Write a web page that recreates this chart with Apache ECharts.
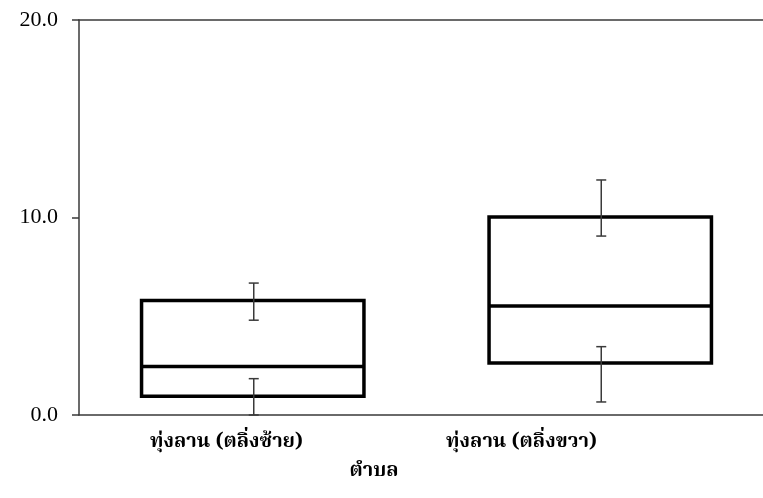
<!DOCTYPE html>
<html>
<head>
<meta charset="utf-8">
<script src="https://cdn.jsdelivr.net/npm/echarts@6/dist/echarts.min.js"></script>
<style>
  html, body { margin: 0; padding: 0; background: #fff; }
  #main { width: 763px; height: 498px; }
</style>
</head>
<body>
<div id="main"></div>
<script>
  var categories = ['ทุ่งลาน (ตลิ่งซ้าย)', 'ทุ่งลาน (ตลิ่งขวา)'];
  var axisName = 'ตำบล';
  var yTicks = [0, 10, 20];

  // box: bottom, middle line, top
  var boxLow = [0.95, 2.63];
  var boxMid = [2.45, 5.52];
  var boxHigh = [5.8, 10.03];

  // error bars around box top and box bottom
  var errTopLow = [4.8, 9.06];
  var errTopHigh = [6.68, 11.9];
  var errBotLow = [0, 0.66];
  var errBotHigh = [1.84, 3.46];

  var thaiFont = '"Noto Serif Thai", "Noto Sans Thai", serif';

  var boxData = categories.map(function (c, i) {
    return [i, boxLow[i], boxMid[i], boxHigh[i]];
  });
  var errData = [];
  categories.forEach(function (c, i) {
    errData.push([i, errTopLow[i], errTopHigh[i]]);
    errData.push([i, errBotLow[i], errBotHigh[i]]);
  });

  var myChart = echarts.init(document.getElementById('main'));
  var option = {
    animation: false,
    backgroundColor: '#fff',
    grid: [
      { left: 79, top: 20, width: 695, height: 395, outerBoundsMode: 'none', containLabel: false },
      { left: 79, top: 20, width: 590, height: 395, outerBoundsMode: 'none', containLabel: false }
    ],
    xAxis: [
      {
        type: 'category', gridIndex: 0, data: categories,
        axisLine: { lineStyle: { color: '#3a3a3a', width: 1.5 } },
        axisTick: { show: false },
        axisLabel: { show: false }
      },
      {
        type: 'category', gridIndex: 0, position: 'top', data: categories,
        axisLine: { lineStyle: { color: '#3a3a3a', width: 1.5 } },
        axisTick: { show: false },
        axisLabel: { show: false }
      },
      {
        type: 'category', gridIndex: 1, data: categories,
        axisLine: { show: false },
        axisTick: { show: false },
        axisLabel: {
          margin: 19, color: '#000', fontSize: 20, fontWeight: 'bold',
          fontFamily: thaiFont
        },
        name: axisName,
        nameLocation: 'middle',
        nameGap: 48,
        nameTextStyle: { color: '#000', fontSize: 20, fontWeight: 'bold', fontFamily: thaiFont }
      }
    ],
    yAxis: [
      {
        type: 'value', gridIndex: 0, min: yTicks[0], max: yTicks[yTicks.length - 1], interval: 10,
        axisLine: { show: true, lineStyle: { color: '#3a3a3a', width: 1.5 } },
        axisTick: { show: true, inside: false, length: 7, lineStyle: { color: '#3a3a3a', width: 1.5 } },
        splitLine: { show: false },
        axisLabel: {
          margin: 21, color: '#000', fontSize: 22,
          fontFamily: '"Liberation Serif", "DejaVu Serif", serif',
          formatter: function (v) { return v.toFixed(1); }
        }
      },
      { type: 'value', gridIndex: 1, show: false, min: 0, max: 20 }
    ],
    series: [
      {
        type: 'custom',
        xAxisIndex: 0, yAxisIndex: 0,
        data: boxData,
        renderItem: function (params, api) {
          var x = api.value(0);
          var lo = api.coord([x, api.value(1)]);
          var mid = api.coord([x, api.value(2)]);
          var hi = api.coord([x, api.value(3)]);
          var w = api.size([1, 0])[0] * 0.64;
          var style = { stroke: '#000', lineWidth: 3.5, fill: null };
          return {
            type: 'group',
            children: [
              { type: 'rect', shape: { x: lo[0] - w / 2, y: hi[1], width: w, height: lo[1] - hi[1] }, style: style },
              { type: 'line', shape: { x1: lo[0] - w / 2, y1: mid[1], x2: lo[0] + w / 2, y2: mid[1] }, style: style }
            ]
          };
        },
        z: 2
      },
      {
        type: 'custom',
        xAxisIndex: 0, yAxisIndex: 0,
        data: errData,
        renderItem: function (params, api) {
          var x = api.value(0);
          var lo = api.coord([x, api.value(1)]);
          var hi = api.coord([x, api.value(2)]);
          var cx = lo[0] + 1;
          var cap = 5;
          var style = { stroke: '#3a3a3a', lineWidth: 1.5 };
          return {
            type: 'group',
            children: [
              { type: 'line', shape: { x1: cx, y1: lo[1], x2: cx, y2: hi[1] }, style: style },
              { type: 'line', shape: { x1: cx - cap, y1: lo[1], x2: cx + cap, y2: lo[1] }, style: style },
              { type: 'line', shape: { x1: cx - cap, y1: hi[1], x2: cx + cap, y2: hi[1] }, style: style }
            ]
          };
        },
        z: 3
      }
    ]
  };
  myChart.setOption(option);
</script>
</body>
</html>
